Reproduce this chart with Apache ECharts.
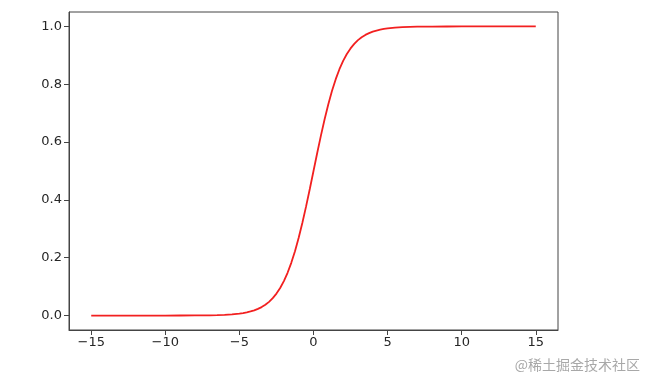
<!DOCTYPE html>
<html>
<head>
<meta charset="utf-8">
<script src="https://cdn.jsdelivr.net/npm/echarts@6/dist/echarts.min.js"></script>
<style>html,body{margin:0;padding:0;background:#fff;}#c{width:647px;height:380px;}</style>
</head>
<body>
<div id="c"></div>
<script>
var xValues = [-15,-14,-13,-12,-11,-10,-9,-8,-7.5,-7,-6.5,-6,-5.5,-5,-4.75,-4.5,-4.25,-4,-3.75,-3.5,-3.25,-3,-2.75,-2.5,-2.25,-2,-1.75,-1.5,-1.25,-1,-0.75,-0.5,-0.25,0,0.25,0.5,0.75,1,1.25,1.5,1.75,2,2.25,2.5,2.75,3,3.25,3.5,3.75,4,4.25,4.5,4.75,5,5.5,6,6.5,7,7.5,8,9,10,11,12,13,14,15];
var yValues = [0.0000,0.0000,0.0000,0.0000,0.0000,0.0000,0.0001,0.0003,0.0006,0.0009,0.0015,0.0025,0.0041,0.0067,0.0086,0.0110,0.0141,0.0180,0.0230,0.0293,0.0373,0.0474,0.0601,0.0759,0.0953,0.1192,0.1480,0.1824,0.2227,0.2689,0.3208,0.3775,0.4378,0.5000,0.5622,0.6225,0.6792,0.7311,0.7773,0.8176,0.8520,0.8808,0.9047,0.9241,0.9399,0.9526,0.9627,0.9707,0.9770,0.9820,0.9859,0.9890,0.9914,0.9933,0.9959,0.9975,0.9985,0.9991,0.9994,0.9997,0.9999,1.0000,1.0000,1.0000,1.0000,1.0000,1.0000];
var xTicks = [-15,-10,-5,0,5,10,15];
var yTicks = [0,0.2,0.4,0.6,0.8,1.0];
var watermark = '@稀土掘金技术社区';

var data = xValues.map(function(x,i){return [x,yValues[i]];});
var chart = echarts.init(document.getElementById('c'));
var labelFont = {fontFamily:'DejaVu Sans', fontSize:13, color:'#262626'};
chart.setOption({
  animation:false,
  grid:{left:69,right:89,top:12,bottom:50,show:true,borderColor:'#444',borderWidth:1,backgroundColor:'transparent'},
  xAxis:{type:'value',min:-16.5,max:16.5,
    axisLine:{show:true,onZero:false,lineStyle:{color:'#444',width:1}},
    axisTick:{show:true,length:5,lineStyle:{color:'#444'},customValues:xTicks},
    axisLabel:Object.assign({margin:6,customValues:xTicks,formatter:function(v){return (v<0?'\u2212'+(-v):''+v);}},labelFont),
    splitLine:{show:false}},
  yAxis:{type:'value',min:-0.05,max:1.05,
    axisLine:{show:true,onZero:false,lineStyle:{color:'#444',width:1}},
    axisTick:{show:true,length:5,lineStyle:{color:'#444'},customValues:yTicks},
    axisLabel:Object.assign({margin:7,customValues:yTicks,formatter:function(v){return v.toFixed(1);}},labelFont),
    splitLine:{show:false}},
  graphic:[{type:'text',right:7,top:358,style:{text:watermark,fill:'#a8a8a8',font:'14px "Noto Sans CJK SC"'}}],
  series:[{type:'line',data:data,showSymbol:false,smooth:false,
    lineStyle:{color:'#f22020',width:1.8}}]
});
</script>
</body>
</html>
